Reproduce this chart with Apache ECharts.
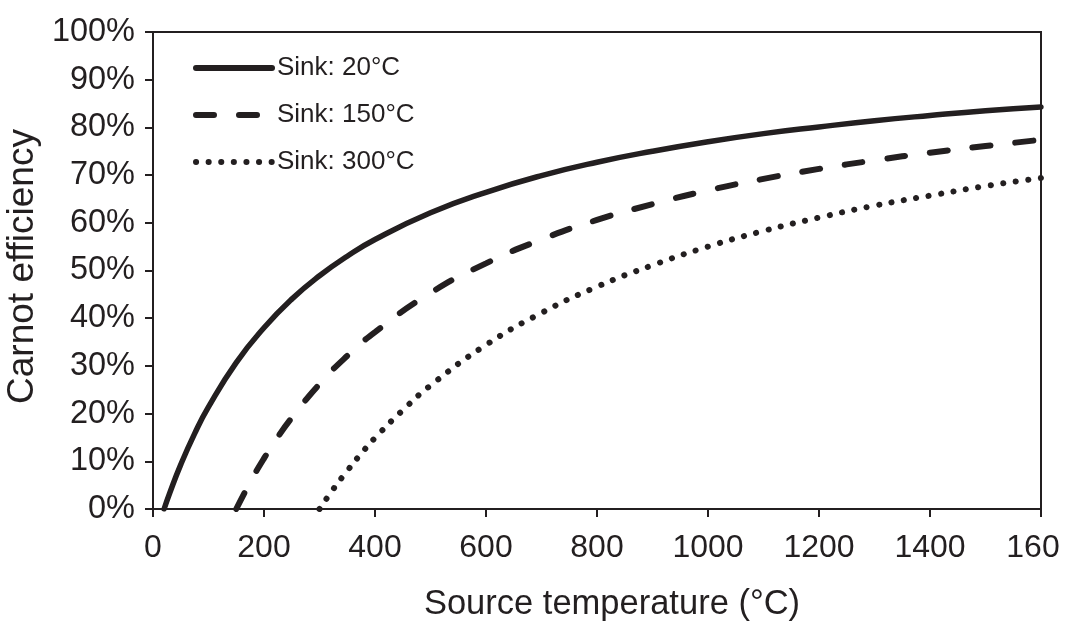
<!DOCTYPE html>
<html>
<head>
<meta charset="utf-8">
<script src="https://cdn.jsdelivr.net/npm/echarts@6/dist/echarts.min.js"></script>
<style>
html,body{margin:0;padding:0;background:#fff;}
#chart{width:1066px;height:621px;}
</style>
</head>
<body>
<div id="chart"></div>
<script>
// Source temperature (°C) and Carnot efficiency (%)
const sink20X = [20, 30, 50, 75, 100, 150, 200, 250, 300, 350, 400, 500, 600, 700, 800, 900, 1000, 1100, 1200, 1300, 1400, 1500, 1600];
const sink20Y = [0, 3.3, 9.3, 15.8, 21.4, 30.7, 38.0, 44.0, 48.9, 53.0, 56.5, 62.1, 66.4, 69.9, 72.7, 75.0, 77.0, 78.7, 80.1, 81.4, 82.5, 83.5, 84.3];

const sink150X = [150, 175, 200, 225, 250, 300, 350, 400, 500, 600, 700, 800, 900, 1000, 1100, 1200, 1300, 1400, 1500, 1600];
const sink150Y = [0, 5.6, 10.6, 15.1, 19.1, 26.2, 32.1, 37.1, 45.3, 51.5, 56.5, 60.6, 63.9, 66.8, 69.2, 71.3, 73.1, 74.7, 76.1, 77.4];

const sink300X = [300, 325, 350, 375, 400, 450, 500, 600, 700, 800, 900, 1000, 1100, 1200, 1300, 1400, 1500, 1600];
const sink300Y = [0, 4.2, 8.0, 11.6, 14.9, 20.7, 25.9, 34.4, 41.1, 46.6, 51.1, 55.0, 58.3, 61.1, 63.6, 65.7, 67.7, 69.4];

const seriesNames = ['Sink: 20°C', 'Sink: 150°C', 'Sink: 300°C'];
const xTickLabels = ['0', '200', '400', '600', '800', '1000', '1200', '1400', '160'];
const yTickLabels = ['0%', '10%', '20%', '30%', '40%', '50%', '60%', '70%', '80%', '90%', '100%'];
const xAxisTitle = 'Source temperature (°C)';
const yAxisTitle = 'Carnot efficiency';

const ink = '#231f20';
const font = 'Liberation Sans, Arial, sans-serif';

function pairs(xs, ys) { return xs.map((x, i) => [x, ys[i]]); }

const chart = echarts.init(document.getElementById('chart'), null, {renderer: 'canvas'});
chart.setOption({
  animation: false,
  backgroundColor: '#fff',
  textStyle: {fontFamily: font, color: ink},
  grid: {left: 153, right: 25, top: 32, bottom: 112, show: true, borderColor: ink, borderWidth: 2, backgroundColor: 'transparent', containLabel: false, outerBoundsMode: 'none'},
  legend: {
    orient: 'vertical', left: 188, top: 50, padding: 5,
    itemWidth: 76, itemHeight: 14, itemGap: 21,
    textStyle: {fontFamily: font, fontSize: 26, color: ink, lineHeight: 26},
    lineStyle: {width: 6},
    itemStyle: {color: 'rgba(0,0,0,0)', borderWidth: 0, opacity: 0},
    data: seriesNames
  },
  xAxis: {
    type: 'value', min: 0, max: 1600, interval: 200,
    name: xAxisTitle, nameLocation: 'middle', nameGap: 78,
    nameTextStyle: {fontFamily: font, fontSize: 34.5, color: ink, padding: [0, 0, 0, 30]},
    axisLine: {show: true, lineStyle: {color: ink, width: 2}},
    axisTick: {show: true, inside: false, length: 8, lineStyle: {color: ink, width: 2}},
    splitLine: {show: false},
    axisLabel: {
      fontFamily: font, fontSize: 32, color: ink, margin: 23,
      formatter: function (v) {
        const i = Math.round(v / 200);
        if (i === xTickLabels.length - 1) return '{last|' + xTickLabels[i] + '}';
        return xTickLabels[i];
      },
      rich: {last: {fontFamily: font, fontSize: 32, color: ink, padding: [0, 16, 0, 0]}}
    }
  },
  yAxis: {
    type: 'value', min: 0, max: 100, interval: 10,
    name: yAxisTitle, nameLocation: 'middle', nameGap: 92, nameRotate: 90,
    nameTextStyle: {fontFamily: font, fontSize: 37, color: ink, padding: [0, 0, 0, 8]},
    axisLine: {show: true, lineStyle: {color: ink, width: 2}},
    axisTick: {show: true, inside: false, length: 8, lineStyle: {color: ink, width: 2}},
    splitLine: {show: false},
    axisLabel: {
      fontFamily: font, fontSize: 32.5, color: ink, margin: 18,
      formatter: function (v) { return yTickLabels[Math.round(v / 10)]; }
    }
  },
  series: [
    {
      name: seriesNames[0], type: 'line', smooth: true, symbol: 'none',
      data: pairs(sink20X, sink20Y),
      lineStyle: {color: ink, width: 5.5, type: 'solid', cap: 'round'},
      itemStyle: {color: ink}
    },
    {
      name: seriesNames[1], type: 'line', smooth: true, symbol: 'none',
      data: pairs(sink150X, sink150Y),
      lineStyle: {color: ink, width: 6, type: [18, 25], cap: 'round'},
      itemStyle: {color: ink}
    },
    {
      name: seriesNames[2], type: 'line', smooth: true, symbol: 'none',
      data: pairs(sink300X, sink300Y),
      lineStyle: {color: ink, width: 6, type: [0.1, 12.5], cap: 'round'},
      itemStyle: {color: ink}
    }
  ]
});
</script>
</body>
</html>
